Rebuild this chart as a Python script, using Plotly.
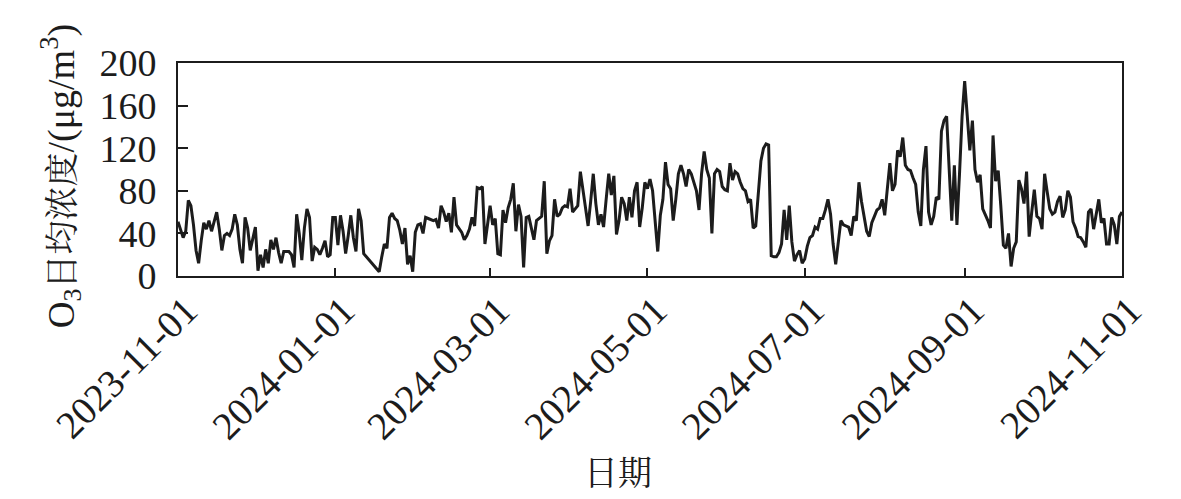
"""Daily mean O3 concentration, Nov 2023 - Nov 2024."""

import pandas as pd
import plotly.graph_objects as go

START_DATE = "2023-11-01"

# daily mean O3 (ug/m3), one list per month; None = no data
o3_2023_11 = [51, 44, 36, 42, 71, 66, 48, 24, 12, 33, 50, 44, 52, 42, 50,
              60, 44, 24, 38, 40, 38, 44, 58, 48, 25, 12, 55, 45, 24, 34]
o3_2023_12 = [46, 5, 20, 8, 25, 12, 34, 25, 36, 22, 12, 23, 23, 23, 20, 8,
              58, 40, 15, 45, 63, 55, 14, 27, 25, 20, 26, 33, 18, 20, 55]
o3_2024_01 = [55, 29, 57, 42, 21, 38, 57, 36, 23, 63, 52, 21, None, None,
              None, None, None, 4, 18, 30, 26, 55, 59, 54, 52, 43, 30, 45,
              11, 19, 4]
o3_2024_02 = [41, 48, 49, 40, 55, 54, 53, 52, 53, 45, 66, 60, 51, 59, 41,
              74, 48, 45, 41, 34, 38, 44, 55, 47, 83, 82, 84, 30, 48]
o3_2024_03 = [66, 48, 54, 21, 20, 62, 50, 64, 72, 87, 42, 67, 56, 8, 55, 56,
              44, 34, 52, 54, 56, 89, 21, 33, 38, 72, 56, 58, 64, 66, 65]
o3_2024_04 = [82, 60, 63, 66, 98, 80, 60, 47, 70, 96, 68, 48, 58, 46, 72,
              96, 76, 94, 39, 52, 74, 68, 52, 74, 55, 80, 88, 46, 64, 88]
o3_2024_05 = [82, 91, 80, 55, 23, 57, 72, 107, 86, 82, 52, 72, 96, 104, 96,
              84, 100, 96, 88, 80, 62, 96, 117, 100, 92, 40, 96, 100, 98,
              84, 81]
o3_2024_06 = [80, 106, 90, 98, 96, 88, 82, 80, 70, 72, 45, 47, 80, 108, 120,
              124, 123, 19, 18, 18, 22, 30, 62, 34, 66, 32, 14, 20, 24, 12]
o3_2024_07 = [16, 28, 36, 38, 46, 44, 54, 54, 62, 72, 58, 30, 11, 35, 52, 48,
              47, 46, 38, 56, 52, 88, 70, 54, 42, 37, 50, 56, 62, 64, 72]
o3_2024_08 = [57, 80, 106, 80, 86, 118, 112, 130, 104, 100, 99, 92, 86, 60,
              47, 100, 122, 60, 48, 56, 74, 72, 136, 146, 150, 100, 52, 104,
              48, 96, 150]
o3_2024_09 = [183, 150, 118, 146, 100, 88, 95, 63, 58, 52, 45, 132, 89, 99,
              66, 29, 26, 40, 9, 26, 32, 90, 82, 68, 98, 37, 60, 81, 56, 54]
o3_2024_10 = [44, 96, 79, 63, 58, 60, 70, 75, 55, 62, 80, 74, 51, 45, 37, 36,
              32, 27, 60, 63, 44, 60, 72, 50, 54, 30, 30, 55, 48, 30, 56]
o3_2024_11 = [60]

tick_dates = ["2023-11-01", "2024-01-01", "2024-03-01", "2024-05-01",
              "2024-07-01", "2024-09-01", "2024-11-01"]
y_ticks = [0, 40, 80, 120, 160, 200]

values = (o3_2023_11 + o3_2023_12 + o3_2024_01 + o3_2024_02 + o3_2024_03
          + o3_2024_04 + o3_2024_05 + o3_2024_06 + o3_2024_07 + o3_2024_08
          + o3_2024_09 + o3_2024_10 + o3_2024_11)
dates = pd.date_range(START_DATE, periods=len(values), freq="D")

FONT = "Liberation Serif, Times New Roman, Noto Serif CJK SC, Noto Sans CJK SC, serif"
INK = "#1c1c1c"

fig = go.Figure()
fig.add_trace(go.Scatter(
    x=dates, y=values, mode="lines", connectgaps=True,
    line=dict(color=INK, width=3), showlegend=False,
))

axis_common = dict(
    showline=True, linecolor=INK, linewidth=2, mirror=True,
    ticks="inside", tickcolor=INK, tickwidth=2,
    showgrid=False, zeroline=False,
)

fig.update_xaxes(
    type="date", range=[tick_dates[0], tick_dates[-1]],
    tickvals=tick_dates, ticktext=tick_dates, tickangle=-45, ticklen=8,
    ticklabelstandoff=-6, ticklabelshift=8,
    tickfont=dict(family=FONT, size=39, color=INK),
    **axis_common,
)
fig.update_yaxes(
    range=[0, 200], tickvals=y_ticks, ticklen=10, ticklabelstandoff=12,
    tickfont=dict(family=FONT, size=38, color=INK),
    **axis_common,
)

# page body adds an 8px offset, margins below account for it
fig.add_annotation(
    text=("<span style='font-size:37px'>O<sub>3</sub></span>日均浓度"
          "<span style='font-size:38px'>/(μg/m<sup>3</sup>)</span>"),
    xref="paper", yref="paper", x=-0.124, y=0.468,
    xanchor="center", yanchor="middle", textangle=-90, showarrow=False,
    font=dict(family=FONT, size=34, color=INK),
)
fig.add_annotation(
    text="日期", xref="paper", yref="paper", x=0.466, y=-0.925,
    xanchor="center", yanchor="middle", showarrow=False,
    font=dict(family=FONT, size=34, color=INK),
)

fig.update_layout(
    width=1181, height=499,
    margin=dict(l=170, r=67, t=55, b=231),
    plot_bgcolor="white", paper_bgcolor="white",
    font=dict(family=FONT, color=INK),
)

fig.write_html("out.html")
